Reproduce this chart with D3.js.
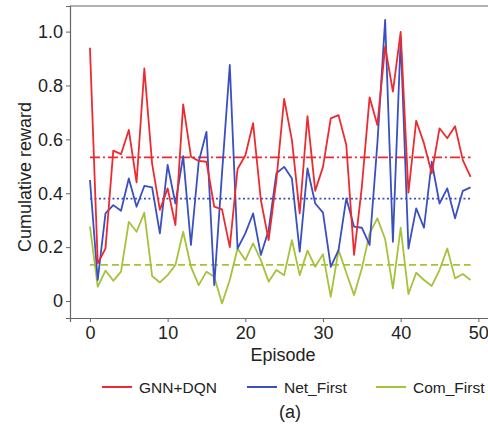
<!DOCTYPE html>
<html>
<head>
<meta charset="utf-8">
<script src="https://cdn.jsdelivr.net/npm/d3@7"></script>
<style>
  body { margin: 0; background: #fff; }
  text { font-family: Arial, "Liberation Sans", sans-serif; fill: #222; }
</style>
</head>
<body>
<div id="chart"></div>
<script>
// episodes 0..49
var episodes = d3.range(0, 50);

var gnnDqn = [0.94, 0.14, 0.195, 0.558, 0.545, 0.635, 0.44, 0.863, 0.51, 0.338,
              0.418, 0.282, 0.73, 0.536, 0.52, 0.517, 0.35, 0.34, 0.2, 0.49,
              0.54, 0.66, 0.375, 0.226, 0.449, 0.75, 0.597, 0.325, 0.686, 0.409,
              0.498, 0.678, 0.69, 0.579, 0.171, 0.424, 0.756, 0.653, 0.944, 0.777,
              0.999, 0.402, 0.669, 0.585, 0.474, 0.641, 0.604, 0.649, 0.523, 0.461];

var netFirst = [0.449, 0.078, 0.325, 0.356, 0.335, 0.455, 0.35, 0.427, 0.422, 0.251,
                0.505, 0.362, 0.538, 0.208, 0.517, 0.628, 0.059, 0.474, 0.876, 0.195,
                0.251, 0.325, 0.171, 0.263, 0.474, 0.498, 0.455, 0.183, 0.492, 0.362,
                0.328, 0.127, 0.189, 0.381, 0.276, 0.272, 0.208, 0.585, 1.043, 0.22,
                0.975, 0.195, 0.344, 0.272, 0.517, 0.362, 0.418, 0.307, 0.409, 0.422];

var comFirst = [0.276, 0.053, 0.113, 0.075, 0.109, 0.294, 0.257, 0.328, 0.093, 0.069,
                0.096, 0.134, 0.257, 0.127, 0.059, 0.109, 0.09, -0.009, 0.078, 0.195,
                0.152, 0.214, 0.152, 0.072, 0.115, 0.096, 0.226, 0.096, 0.187, 0.127,
                0.174, 0.016, 0.189, 0.105, 0.022, 0.121, 0.251, 0.307, 0.23, 0.047,
                0.272, 0.026, 0.105, 0.078, 0.056, 0.115, 0.195, 0.084, 0.1, 0.078];

// average lines
var means = [0.533, 0.38, 0.134];

var seriesNames = ["GNN+DQN", "Net_First", "Com_First"];
var colors = ["#ec2b30", "#3a4fc2", "#a5c23b"];
var dashes = ["10,3,2,3", "2,2.5", "7,4"];

var xTicks = [0, 10, 20, 30, 40, 50];
var yTicks = [0, 0.2, 0.4, 0.6, 0.8, 1.0];

var W = 488, H = 424;
var mLeft = 70, mRight = 490, mTop = 6, mBottom = 318;

var svg = d3.select("#chart").append("svg")
    .attr("width", W)
    .attr("height", H);

var x = d3.scaleLinear().domain([-2.57, 51.5]).range([mLeft, mRight]);
var y = d3.scaleLinear().domain([-0.063, 1.095]).range([mBottom, mTop]);

// top spine
svg.append("line")
    .attr("x1", mLeft).attr("x2", mRight)
    .attr("y1", mTop).attr("y2", mTop)
    .attr("stroke", "#666").attr("stroke-width", 1.2);

var data = [gnnDqn, netFirst, comFirst];

var line = d3.line()
    .x(function(d, i) { return x(episodes[i]); })
    .y(function(d) { return y(d); });

// mean lines under the curves
means.forEach(function(m, k) {
    svg.append("line")
        .attr("x1", x(0)).attr("x2", x(49))
        .attr("y1", y(m)).attr("y2", y(m))
        .attr("stroke", colors[k])
        .attr("stroke-width", 1.8)
        .attr("stroke-dasharray", dashes[k]);
});

// draw green first so red sits on top
[2, 1, 0].forEach(function(k) {
    svg.append("path")
        .datum(data[k])
        .attr("fill", "none")
        .attr("stroke", colors[k])
        .attr("stroke-width", 1.8)
        .attr("stroke-linejoin", "round")
        .attr("d", line);
});

// axes
var xAxis = svg.append("g")
    .attr("transform", "translate(0," + mBottom + ")")
    .call(d3.axisBottom(x).tickValues(xTicks).tickSize(4).tickPadding(4)
        .tickFormat(d3.format("d")));

var yAxis = svg.append("g")
    .attr("transform", "translate(" + mLeft + ",0)")
    .call(d3.axisLeft(y).tickValues(yTicks).tickSize(4).tickPadding(3)
        .tickFormat(function(d) { return d === 0 ? "0" : d3.format(".1f")(d); }));

[xAxis, yAxis].forEach(function(a) {
    a.select(".domain").attr("stroke", "#666").attr("stroke-width", 1.2);
    a.selectAll(".tick line").attr("stroke", "#666");
    a.selectAll("text").style("font-size", "18px").attr("fill", "#222");
});

// axis labels
svg.append("text")
    .attr("x", 283).attr("y", 361)
    .attr("text-anchor", "middle")
    .style("font-size", "18px")
    .text("Episode");

svg.append("text")
    .attr("transform", "translate(31,177) rotate(-90)")
    .attr("text-anchor", "middle")
    .style("font-size", "18px")
    .text("Cumulative reward");

// legend
var legendX = [102, 247, 376];
seriesNames.forEach(function(name, k) {
    var g = svg.append("g").attr("transform", "translate(" + legendX[k] + ",387)");
    g.append("line")
        .attr("x1", 0).attr("x2", 30)
        .attr("y1", 0).attr("y2", 0)
        .attr("stroke", colors[k]).attr("stroke-width", 2);
    g.append("text")
        .attr("x", 37).attr("y", 6)
        .style("font-size", "15.5px")
        .text(name);
});

svg.append("text")
    .attr("x", 290).attr("y", 418)
    .attr("text-anchor", "middle")
    .style("font-size", "18px")
    .text("(a)");
</script>
</body>
</html>
